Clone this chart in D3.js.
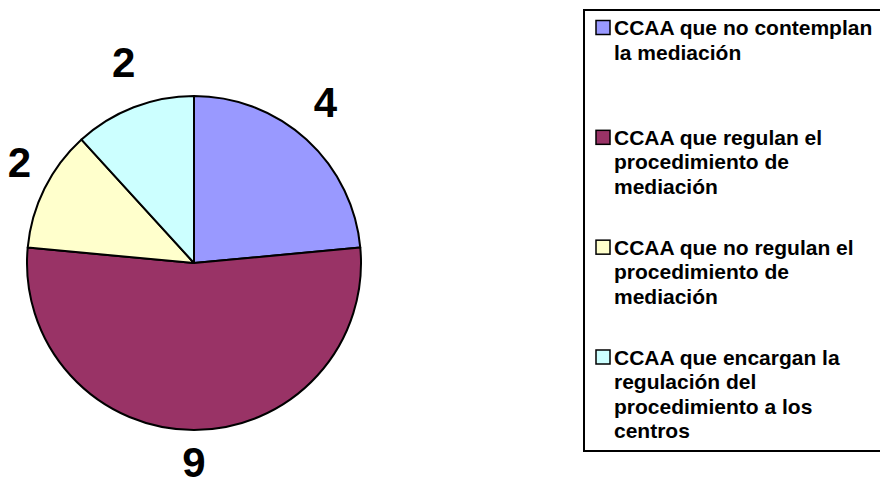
<!DOCTYPE html>
<html>
<head>
<meta charset="utf-8">
<script src="https://cdn.jsdelivr.net/npm/d3@7"></script>
<style>
  html, body { margin: 0; padding: 0; background: #fff; }
  svg { display: block; }
</style>
</head>
<body>
<svg id="chart"></svg>
<script>
(function () {
  // chart values
  const categories = [
    "CCAA que no contemplan la mediación",
    "CCAA que regulan el procedimiento de mediación",
    "CCAA que no regulan el procedimiento de mediación",
    "CCAA que encargan la regulación del procedimiento a los centros",
  ];
  // how the legend breaks each category into lines
  const legendLines = [
    ["CCAA que no contemplan", "la mediación"],
    ["CCAA que regulan el", "procedimiento de", "mediación"],
    ["CCAA que no regulan el", "procedimiento de", "mediación"],
    ["CCAA que encargan la", "regulación del", "procedimiento a los", "centros"],
  ];
  const values = [4, 9, 2, 2];
  const colors = ["#9999FF", "#993366", "#FFFFCC", "#CCFFFF"];

  const width = 880;
  const height = 486;
  const font = "'Liberation Sans', Arial, Helvetica, sans-serif";

  const svg = d3
    .select("#chart")
    .attr("width", width)
    .attr("height", height)
    .attr("style", `font-family: ${font}`);

  svg.append("rect").attr("width", width).attr("height", height).attr("fill", "#fff");

  const data = categories.map((c, i) => ({ name: c, value: values[i], color: colors[i], lines: legendLines[i] }));

  // pie
  const cx = 194;
  const cy = 263;
  const radius = 167;
  // labels sit on a ring outside the pie, nudged up a little
  const labelRx = 195;
  const labelRy = 207;
  const labelShiftY = -8;

  const pie = d3.pie().sort(null).value((d) => d.value);
  const arcs = pie(data);
  const arc = d3.arc().innerRadius(0).outerRadius(radius);
  const midAngle = (d) => (d.startAngle + d.endAngle) / 2;

  const g = svg.append("g").attr("transform", `translate(${cx}, ${cy})`);

  g.selectAll(".slice")
    .data(arcs)
    .enter()
    .append("path")
    .attr("class", "slice")
    .attr("d", arc)
    .attr("fill", (d) => d.data.color)
    .attr("stroke", "#000")
    .attr("stroke-width", 2)
    .attr("stroke-linejoin", "round");

  g.selectAll(".value-label")
    .data(arcs)
    .enter()
    .append("text")
    .attr("class", "value-label")
    .attr("x", (d) => labelRx * Math.sin(midAngle(d)))
    .attr("y", (d) => labelShiftY - labelRy * Math.cos(midAngle(d)))
    .attr("text-anchor", "middle")
    .attr("dy", "0.35em")
    .attr("font-size", "42px")
    .attr("font-weight", "bold")
    .attr("fill", "#000")
    .text((d) => d.data.value);

  // legend
  const legendX = 584;
  const legendY = 10;
  const fontSize = 21;
  const lineStep = 24.5;

  svg
    .append("rect")
    .attr("x", legendX)
    .attr("y", legendY)
    .attr("width", 310)
    .attr("height", 441)
    .attr("fill", "#fff")
    .attr("stroke", "#000")
    .attr("stroke-width", 2);

  const slotY = d3
    .scalePoint()
    .domain(categories)
    .range([27.5, 357]);

  const item = svg
    .selectAll(".legend-item")
    .data(data)
    .enter()
    .append("g")
    .attr("class", "legend-item")
    .attr("transform", (d) => `translate(${legendX + 12}, ${slotY(d.name)})`);

  item
    .append("rect")
    .attr("x", 0)
    .attr("y", -7)
    .attr("width", 14)
    .attr("height", 14)
    .attr("fill", (d) => d.color)
    .attr("stroke", "#000")
    .attr("stroke-width", 1.5);

  item
    .append("text")
    .attr("x", 18)
    .attr("y", 7.5)
    .attr("font-size", `${fontSize}px`)
    .attr("font-weight", "bold")
    .attr("fill", "#000")
    .selectAll("tspan")
    .data((d) => d.lines)
    .enter()
    .append("tspan")
    .attr("x", 18)
    .attr("y", (d, i) => 7.5 + i * lineStep)
    .text((d) => d);
})();
</script>
</body>
</html>
